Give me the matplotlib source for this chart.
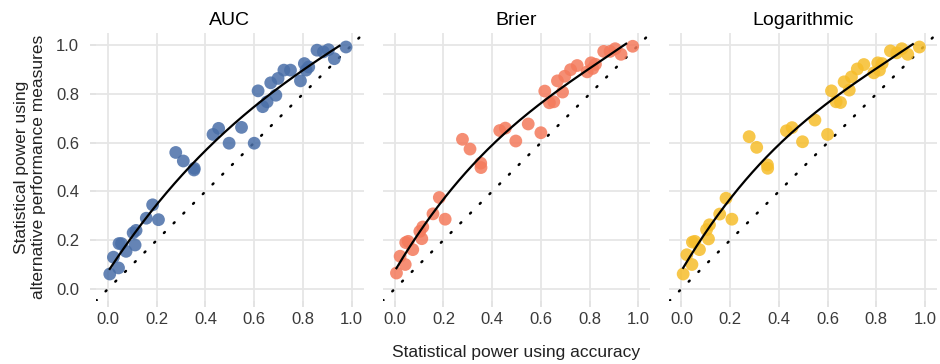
import numpy as np
import matplotlib
matplotlib.use("Agg")
import matplotlib.pyplot as plt

plt.rcParams["font.family"] = ["Liberation Sans", "DejaVu Sans"]

# Data
panels = ["AUC", "Brier", "Logarithmic"]
colors = ["#4a6fa8", "#f47a5c", "#f6bd2b"]

power_accuracy = [0.007, 0.043, 0.022, 0.045, 0.055, 0.074, 0.111, 0.103, 0.115,
                  0.157, 0.183, 0.207, 0.278, 0.309, 0.353, 0.354, 0.431, 0.454,
                  0.497, 0.548, 0.600, 0.616, 0.635, 0.653, 0.689, 0.668, 0.698,
                  0.722, 0.749, 0.790, 0.806, 0.824, 0.813, 0.858, 0.884, 0.905,
                  0.929, 0.977]

power_auc = [0.061, 0.086, 0.130, 0.186, 0.186, 0.154, 0.180, 0.230, 0.240,
             0.290, 0.345, 0.284, 0.560, 0.525, 0.488, 0.495, 0.634, 0.659,
             0.598, 0.663, 0.598, 0.813, 0.748, 0.768, 0.795, 0.846, 0.864,
             0.898, 0.898, 0.854, 0.925, 0.911, 0.898, 0.980, 0.973, 0.982,
             0.945, 0.993]

power_brier = [0.065, 0.100, 0.134, 0.190, 0.195, 0.161, 0.206, 0.236, 0.254,
               0.308, 0.375, 0.286, 0.614, 0.574, 0.516, 0.498, 0.650, 0.660,
               0.607, 0.677, 0.641, 0.812, 0.764, 0.768, 0.808, 0.854, 0.873,
               0.900, 0.917, 0.891, 0.928, 0.922, 0.905, 0.975, 0.975, 0.986,
               0.963, 0.996]

power_log = [0.061, 0.100, 0.140, 0.192, 0.195, 0.161, 0.205, 0.243, 0.263,
             0.307, 0.372, 0.286, 0.625, 0.581, 0.509, 0.495, 0.649, 0.662,
             0.604, 0.693, 0.634, 0.813, 0.768, 0.765, 0.816, 0.850, 0.870,
             0.903, 0.921, 0.887, 0.928, 0.925, 0.898, 0.977, 0.969, 0.986,
             0.963, 0.993]

series = [power_auc, power_brier, power_log]
ticks = [0.0, 0.2, 0.4, 0.6, 0.8, 1.0]

fig = plt.figure(figsize=(9.4, 3.64), dpi=100)
lefts = [0.102, 0.407, 0.712]
x = np.array(power_accuracy)

for i, (name, col, ys) in enumerate(zip(panels, colors, series)):
    ax = fig.add_axes([lefts[i], 0.173, 0.285, 0.736])
    ys = np.array(ys)
    ax.set_xlim(-0.05, 1.05)
    ax.set_ylim(-0.05, 1.05)
    ax.grid(True, color="#e6e6e6", linewidth=1.3)
    ax.set_axisbelow(True)
    for s in ax.spines.values():
        s.set_visible(False)
    ax.tick_params(length=4, width=1.3, color="#e0e0e0", labelsize=12,
                   labelcolor="#3a3a3a", pad=4)
    ax.tick_params(axis="y", pad=8)
    ax.set_xticks(ticks)
    ax.set_yticks(ticks)
    ax.set_xticklabels([f"{t:.1f}" for t in ticks])
    if i == 0:
        ax.set_yticklabels([f"{t:.1f}" for t in ticks])
        ax.set_ylabel("Statistical power using\nalternative performance measures",
                      fontsize=12.5, color="#222222", labelpad=7, linespacing=1.2)
    else:
        ax.set_yticklabels([])
        ax.tick_params(axis="y", length=0)

    # identity line
    ax.plot([-0.05, 1.05], [-0.05, 1.05], color="black", linestyle=(0, (0.5, 5)),
            linewidth=1.8, dash_capstyle="round")

    ax.scatter(x, ys, s=85, color=col, alpha=0.85, edgecolors="none", zorder=3)

    # smooth fit
    coef = np.polyfit(x, ys, 3)
    xs = np.linspace(x.min(), 0.95, 200)
    ax.plot(xs, np.polyval(coef, xs), color="black", linewidth=1.6, zorder=4)

    ax.set_title(name, fontsize=14, color="black", pad=6)

fig.text(lefts[1] + 0.285 / 2, 0.02, "Statistical power using accuracy",
         ha="center", fontsize=12.5, color="#222222")

fig.savefig("out.png", dpi=100)
